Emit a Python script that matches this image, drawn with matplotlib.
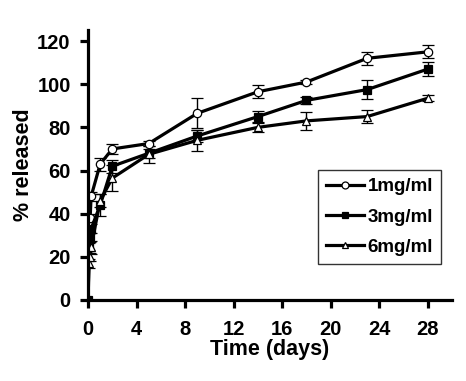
import numpy as np
import matplotlib
matplotlib.use("Agg")
import matplotlib.pyplot as plt

plt.rcParams['font.family'] = ['Liberation Sans', 'DejaVu Sans']
plt.rcParams['font.weight'] = 'bold'

# release data
days = [0, 0.08, 0.17, 0.25, 1, 2, 5, 9, 14, 18, 23, 28]
rel_1mg = [0, 35, 38, 48, 63, 70, 72.5, 86.5, 96.5, 101, 112, 115]
err_1mg = [0, 2, 2, 2, 3, 2.5, 1, 7, 3, 1, 3, 3]
rel_3mg = [0, 24.5, 29, 33, 44, 62, 68, 76, 85, 92.5, 97.5, 107]
err_3mg = [0, 2, 2, 2, 5, 3, 2, 3, 2.5, 1.5, 4.5, 3.3]
rel_6mg = [0, 17, 20, 24.5, 46, 56.5, 67.5, 74, 80, 83, 85, 93.5]
err_6mg = [0, 2, 2, 3, 3, 6, 4, 5, 2, 4, 3, 1.5]

labels = ['1mg/ml', '3mg/ml', '6mg/ml']
markers = ['o', 's', '^']
faces = ['white', 'black', 'white']

fig = plt.figure(figsize=(4.66, 3.81), dpi=100)
ax = fig.add_axes([0.189, 0.2126, 0.781, 0.708])

series = [(rel_1mg, err_1mg), (rel_3mg, err_3mg), (rel_6mg, err_6mg)]
for (vals, errs), lab, mk, fc in zip(series, labels, markers, faces):
    ax.errorbar(days, vals, yerr=errs, color='black', lw=2.3, marker=mk,
                markersize=6, markerfacecolor=fc, markeredgecolor='black',
                markeredgewidth=0.9, ecolor='black', elinewidth=1,
                capsize=4, capthick=1, label=lab)

ax.set_xlim(0, 30)
ax.set_ylim(0, 125)
ax.set_xticks(range(0, 29, 4))
ax.set_yticks(range(0, 121, 20))
for s in ['top', 'right']:
    ax.spines[s].set_visible(False)
for s in ['left', 'bottom']:
    ax.spines[s].set_linewidth(2.3)
ax.tick_params(direction='out', length=5.5, width=2.3, labelsize=14.5)
ax.tick_params(axis='y', pad=7)
ax.tick_params(axis='x', pad=9)
ax.set_xlabel('Time (days)', fontsize=15.5, fontweight='bold', labelpad=0)
ax.set_ylabel('% released', fontsize=15.5, fontweight='bold', labelpad=2.5)

handles, labs = ax.get_legend_handles_labels()
handles = [h[0] for h in handles]
leg = fig.legend(handles, labs, loc='upper left', bbox_to_anchor=(0.682, 0.554),
                 frameon=True, fancybox=False, handlelength=2.0,
                 borderpad=0.45, labelspacing=0.7, handletextpad=0.2,
                 borderaxespad=0, prop={'weight': 'bold', 'size': 13.5})
leg.get_frame().set_edgecolor('black')
leg.get_frame().set_linewidth(1)
for h in leg.legend_handles:
    h.set_markersize(5)

fig.savefig('out.png', dpi=100)
